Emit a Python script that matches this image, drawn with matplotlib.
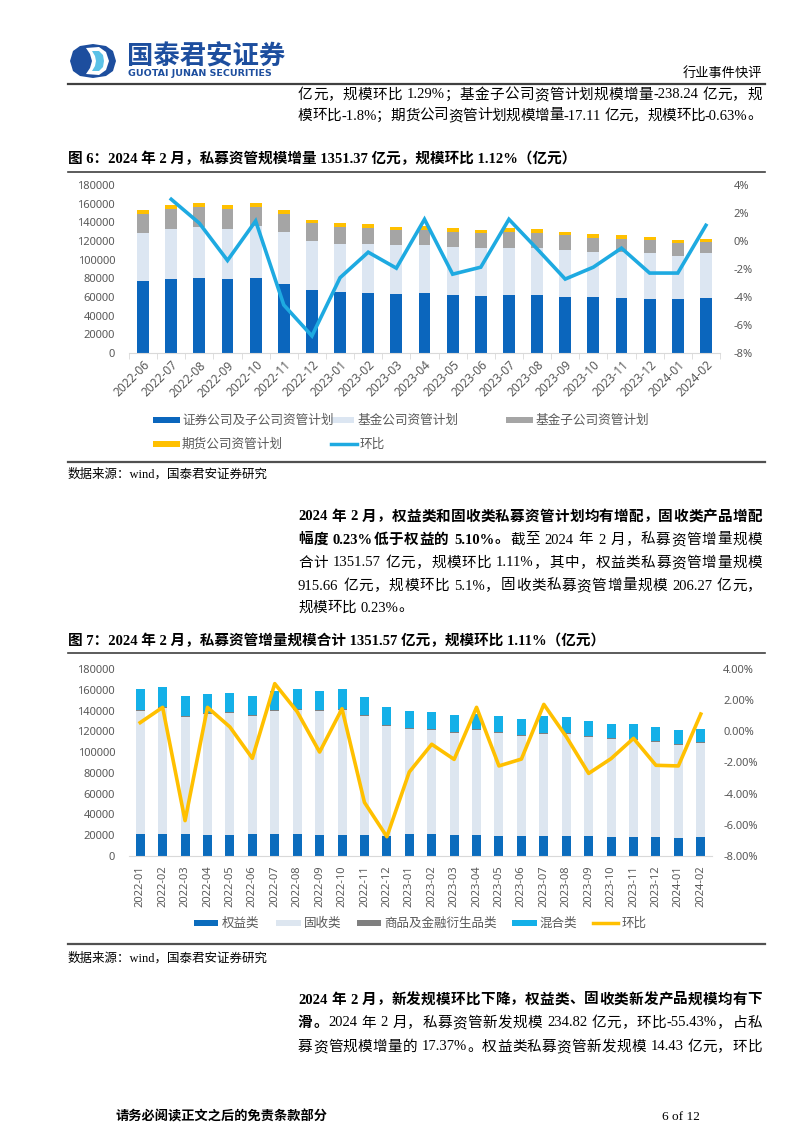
import re
import numpy as np
import matplotlib
matplotlib.use('Agg')
import matplotlib.pyplot as plt
from matplotlib.patches import Polygon, Rectangle
from matplotlib.lines import Line2D
from matplotlib.ticker import FuncFormatter

# ---------------- data: chart 1 ----------------
months1 = ['2022-06', '2022-07', '2022-08', '2022-09', '2022-10', '2022-11', '2022-12',
           '2023-01', '2023-02', '2023-03', '2023-04', '2023-05', '2023-06', '2023-07',
           '2023-08', '2023-09', '2023-10', '2023-11', '2023-12', '2024-01', '2024-02']
sec1 = [76650, 78800, 79900, 78800, 79900, 74200, 67700, 65600, 64500, 63500, 64500,
        62400, 61300, 62400, 62400, 60300, 60300, 59200, 58100, 58100, 59200]
fund1 = [51650, 53800, 54900, 54500, 56300, 55600, 52100, 51700, 52100, 52000, 51700,
         51700, 51000, 50600, 50600, 49900, 48400, 49500, 48900, 46000, 47800]
sub1 = [21100, 21400, 21300, 20700, 19900, 19600, 19200, 17800, 17800, 16800, 15700,
        16000, 16000, 17100, 16100, 16000, 15000, 13600, 13900, 13500, 12100]
fut1 = [3500, 4300, 4700, 4300, 4700, 3900, 3600, 4300, 3900, 2500, 4300,
        3600, 3300, 3900, 3500, 3600, 3600, 3900, 3200, 3300, 2800]
mom1 = [np.nan, 2.98, 1.27, -1.39, 1.43, -4.57, -6.78, -2.62, -0.80, -1.94, 1.55,
        -2.37, -1.87, 1.55, -0.56, -2.72, -1.87, -0.51, -2.29, -2.29, 1.12]
legend1 = ['证券公司及子公司资管计划', '基金公司资管计划', '基金子公司资管计划', '期货公司资管计划', '环比']

# ---------------- data: chart 2 ----------------
months2 = ['2022-01', '2022-02', '2022-03', '2022-04', '2022-05', '2022-06', '2022-07',
           '2022-08', '2022-09', '2022-10', '2022-11', '2022-12', '2023-01', '2023-02',
           '2023-03', '2023-04', '2023-05', '2023-06', '2023-07', '2023-08', '2023-09',
           '2023-10', '2023-11', '2023-12', '2024-01', '2024-02']
eq2 = [21500, 21500, 21500, 20500, 20500, 21500, 21500, 21500, 20500, 20500, 20500, 19600,
       21500, 21500, 20500, 20500, 19600, 19600, 19600, 19600, 19600, 18600, 18600, 18600,
       17700, 18600]
fi2 = [117600, 120500, 112100, 116300, 116700, 112800, 117600, 119200, 118900, 120200,
       114400, 105700, 100600, 99600, 98000, 100600, 98900, 96100, 98000, 98000, 95100,
       94200, 93200, 91300, 89300, 90300]
com2 = [1200] * 26
mix2 = [20900, 19900, 19600, 18300, 18900, 18900, 18900, 19300, 18600, 19300, 17000, 17000,
        16300, 16400, 16100, 14500, 15100, 15000, 16000, 15100, 14100, 13100, 14100, 13100,
        13100, 12200]
mom2 = [0.56, 1.54, -5.73, 1.54, 0.28, -1.73, 3.06, 1.26, -1.33, 1.45, -4.56, -6.76, -2.61,
        -0.83, -1.80, 1.54, -2.22, -1.78, 1.73, -0.34, -2.70, -1.75, -0.45, -2.18, -2.22, 1.11]
legend2 = ['权益类', '固收类', '商品及金融衍生品类', '混合类', '环比']

# ---------------- figure ----------------
W, H = 802, 1133
fig = plt.figure(figsize=(W / 100, H / 100), dpi=100)
fig.patch.set_facecolor('white')

def fx(x):
    return x / W

def fy(y):
    return 1 - y / H

BODY = ['Liberation Serif', 'Noto Sans CJK SC']
CJK = ['Noto Sans CJK SC', 'DejaVu Sans']
NUM = ['Noto Sans', 'Noto Sans CJK SC']
GRAY = '#595959'

def hline(x0, x1, y, lw=1.2, color='#404040'):
    fig.add_artist(Line2D([fx(x0), fx(x1)], [fy(y), fy(y)], color=color, lw=lw))

def txt(x, y, s, size=10.5, weight='normal', ha='left', color='black', family=BODY):
    return fig.text(fx(x), fy(y), s, fontsize=size, fontweight=weight, ha=ha, va='center',
                    color=color, family=family)

renderer = fig.canvas.get_renderer()

def jline(x0, x1, y, segs, size=10.5, justify=True):
    toks = []
    for s, wt in segs:
        for tk in re.findall(r'[A-Za-z0-9.%\-]+| |.', s):
            toks.append((tk, wt))
    items = []
    for tk, wt in toks:
        if tk == ' ':
            items.append((None, size * 0.35))
            continue
        t = fig.text(0, 0, tk, fontsize=size, fontweight=wt, family=BODY, va='center', ha='left')
        w = t.get_window_extent(renderer).width
        items.append((t, w))
    total = sum(w for _, w in items)
    gaps = len(items) - 1
    extra = (x1 - x0 - total) / gaps if (justify and gaps > 0) else 0
    cx = x0
    for t, w in items:
        if t is not None:
            t.set_position((fx(cx), fy(y)))
        cx += w + extra

def poly(pts, col):
    fig.add_artist(Polygon([[fx(a), fy(b)] for a, b in pts], closed=True,
                           transform=fig.transFigure, facecolor=col, edgecolor='none'))

# ---------------- header ----------------
# logo (rounded octagon, dark blue with light-blue inner half)
poly([(70, 61), (73, 51), (80, 46), (93, 44), (106, 46), (113, 51), (116, 61), (113, 71),
      (106, 76), (93, 78), (80, 76), (73, 71)], '#1d4e9e')
poly([(86, 48), (99, 47), (106, 52), (109, 61), (106, 70), (99, 75), (86, 74), (90, 68),
      (92, 61), (90, 54)], 'white')
poly([(92, 51), (99, 51), (103, 55), (104, 61), (103, 67), (99, 71), (92, 71), (95, 66),
      (96, 61), (95, 56)], '#5bc2e7')
txt(127, 57, '国泰君安证券', size=19, weight='bold', color='#1d4e9e', family=CJK)
txt(128, 74, 'GUOTAI JUNAN SECURITIES', size=6.8, weight='bold', color='#1d4e9e',
    family=['DejaVu Sans'])
txt(762, 73, '行业事件快评', size=9.5, ha='right', family=BODY)
hline(68, 765, 84, lw=1.6, color='#404040')

# paragraph 1
jline(298, 762, 95, [('亿元，规模环比 1.29%；基金子公司资管计划规模增量-238.24 亿元，规', 'normal')])
jline(298, 762, 116, [('模环比-1.8%；期货公司资管计划规模增量-17.11 亿元，规模环比-0.63%。', 'normal')])

# figure 6 title
txt(68, 159, '图 6：2024 年 2 月，私募资管规模增量 1351.37 亿元，规模环比 1.12%（亿元）',
    size=10.5, weight='bold')
hline(68, 765, 172, lw=1.2)

# ---------------- chart 1 ----------------
C1 = ['#0b66bd', '#dce6f2', '#a5a5a5', '#ffc000']
LINE1 = '#1eaae1'
ax1 = fig.add_axes([fx(129), fy(353), (720 - 129) / W, (353 - 185) / H])
x1 = np.arange(len(months1))
bw1 = 0.42
b = np.zeros(len(months1))
for vals, col in zip([sec1, fund1, sub1, fut1], C1):
    ax1.bar(x1, vals, bw1, bottom=b, color=col, zorder=2)
    b = b + np.array(vals)
ax1.set_xlim(-0.5, len(months1) - 0.5)
ax1.set_ylim(0, 180000)
ax1.set_yticks(np.arange(0, 180001, 20000))
ax1.set_xticks(x1)
ax1.set_xticklabels(months1, rotation=45, ha='right', rotation_mode='anchor',
                    fontsize=8.5, color=GRAY, family=NUM)
ax1.set_xticks(np.arange(-0.5, len(months1)), minor=True)
ax1.tick_params(axis='x', which='major', length=0, pad=4)
ax1.tick_params(axis='x', which='minor', length=4, color='#d9d9d9')
ax1.tick_params(axis='y', length=0, pad=10, labelsize=8, labelcolor=GRAY)
for lab in ax1.get_yticklabels():
    lab.set_family(NUM)
for sp in ['top', 'right', 'left']:
    ax1.spines[sp].set_visible(False)
ax1.spines['bottom'].set_color('#d9d9d9')
ax1r = ax1.twinx()
ax1r.plot(x1, mom1, color=LINE1, lw=2.6, zorder=3, solid_joinstyle='miter')
ax1r.set_ylim(-8, 4)
ax1r.set_yticks(np.arange(-8, 4.1, 2))
ax1r.yaxis.set_major_formatter(FuncFormatter(lambda v, p: f'{v:.0f}%'))
ax1r.tick_params(axis='y', length=0, pad=10, labelsize=8, labelcolor=GRAY)
for lab in ax1r.get_yticklabels():
    lab.set_family(NUM)
for sp in ax1r.spines.values():
    sp.set_visible(False)

# legend 1
def rect_sw(x0, x1_, y, col, h=6):
    fig.add_artist(Rectangle((fx(x0), fy(y + h / 2)), (x1_ - x0) / W, h / H,
                             transform=fig.transFigure, facecolor=col, edgecolor='none'))

def line_sw(x0, x1_, y, col):
    fig.add_artist(Line2D([fx(x0), fx(x1_)], [fy(y), fy(y)], color=col, lw=2.5))

LS1 = 9.1
rect_sw(153, 180, 420, C1[0]); txt(182, 420, legend1[0], size=LS1, color=GRAY, family=CJK)
rect_sw(331, 354, 420, C1[1]); txt(357, 420, legend1[1], size=LS1, color=GRAY, family=CJK)
rect_sw(506, 533, 420, C1[2]); txt(535, 420, legend1[2], size=LS1, color=GRAY, family=CJK)
rect_sw(153, 180, 444, C1[3]); txt(182, 444, legend1[3], size=LS1, color=GRAY, family=CJK)
line_sw(331, 357, 444, LINE1); txt(360, 444, legend1[4], size=LS1, color=GRAY, family=CJK)
hline(68, 765, 462, lw=1.6, color='#505050')
txt(68, 474, '数据来源：wind，国泰君安证券研究', size=9)

# paragraph 2
jline(298, 762, 517, [('2024 年 2 月，权益类和固收类私募资管计划均有增配，固收类产品增配', 'bold')])
jline(298, 762, 540, [('幅度 0.23%低于权益的 5.10%。', 'bold'), ('截至 2024 年 2 月，私募资管增量规模', 'normal')])
jline(298, 762, 563, [('合计 1351.57 亿元，规模环比 1.11%，其中，权益类私募资管增量规模', 'normal')])
jline(298, 762, 586, [('915.66 亿元，规模环比 5.1%，固收类私募资管增量规模 206.27 亿元，', 'normal')])
jline(298, 762, 608, [('规模环比 0.23%。', 'normal')], justify=False)

# figure 7 title
txt(68, 641, '图 7：2024 年 2 月，私募资管增量规模合计 1351.57 亿元，规模环比 1.11%（亿元）',
    size=10.5, weight='bold')
hline(68, 765, 653, lw=1.2)

# ---------------- chart 2 ----------------
C2 = ['#0b6cbd', '#dde6f0', '#7f7f7f', '#14b0e8']
LINE2 = '#ffc000'
ax2 = fig.add_axes([fx(129), fy(856), (712 - 129) / W, (856 - 669) / H])
x2 = np.arange(len(months2))
bw2 = 0.4
b = np.zeros(len(months2))
for vals, col in zip([eq2, fi2, com2, mix2], C2):
    ax2.bar(x2, vals, bw2, bottom=b, color=col, zorder=2)
    b = b + np.array(vals)
ax2.set_xlim(-0.5, len(months2) - 0.5)
ax2.set_ylim(0, 180000)
ax2.set_yticks(np.arange(0, 180001, 20000))
ax2.set_xticks(x2)
ax2.set_xticklabels(months2, rotation=90, ha='center', va='top',
                    fontsize=8, color=GRAY, family=NUM)
ax2.tick_params(axis='x', length=0, pad=7)
ax2.tick_params(axis='y', length=0, pad=10, labelsize=8, labelcolor=GRAY)
for lab in ax2.get_yticklabels():
    lab.set_family(NUM)
for sp in ['top', 'right', 'left']:
    ax2.spines[sp].set_visible(False)
ax2.spines['bottom'].set_color('#d9d9d9')
ax2r = ax2.twinx()
ax2r.plot(x2, mom2, color=LINE2, lw=2.6, zorder=3)
ax2r.set_ylim(-8, 4)
ax2r.set_yticks(np.arange(-8, 4.1, 2))
ax2r.yaxis.set_major_formatter(FuncFormatter(lambda v, p: f'{v:.2f}%'))
ax2r.tick_params(axis='y', length=0, pad=8, labelsize=8, labelcolor=GRAY)
for lab in ax2r.get_yticklabels():
    lab.set_family(NUM)
for sp in ax2r.spines.values():
    sp.set_visible(False)

# legend 2
rect_sw(194, 218, 923, C2[0]); txt(222, 923, legend2[0], size=9, color=GRAY, family=CJK)
rect_sw(276, 301, 923, C2[1]); txt(304, 923, legend2[1], size=9, color=GRAY, family=CJK)
rect_sw(357, 381, 923, C2[2]); txt(384, 923, legend2[2], size=9, color=GRAY, family=CJK)
rect_sw(512, 537, 923, C2[3]); txt(540, 923, legend2[3], size=9, color=GRAY, family=CJK)
line_sw(593, 618, 923, LINE2); txt(622, 923, legend2[4], size=9, color=GRAY, family=CJK)
hline(68, 765, 944, lw=1.6, color='#505050')
txt(68, 958, '数据来源：wind，国泰君安证券研究', size=9)

# paragraph 3
jline(298, 762, 1000, [('2024 年 2 月，新发规模环比下降，权益类、固收类新发产品规模均有下', 'bold')])
jline(298, 762, 1023, [('滑。', 'bold'), ('2024 年 2 月，私募资管新发规模 234.82 亿元，环比-55.43%，占私', 'normal')])
jline(298, 762, 1047, [('募资管规模增量的 17.37%。权益类私募资管新发规模 14.43 亿元，环比', 'normal')])

# footer
txt(115, 1117, '请务必阅读正文之后的免责条款部分', size=9.5, weight='bold')
txt(700, 1117, '6 of 12', size=9.5, ha='right')

fig.savefig('out.png', dpi=100, facecolor='white')
